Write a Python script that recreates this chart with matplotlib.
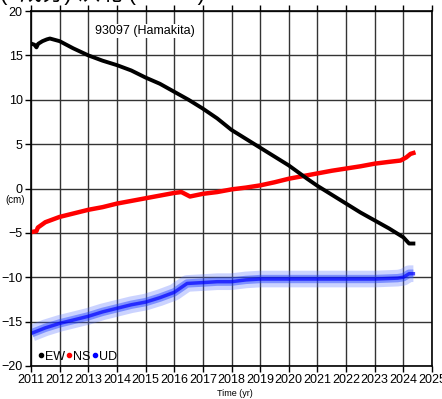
import matplotlib
matplotlib.use("Agg")
import matplotlib.pyplot as plt

plt.rcParams['font.family'] = ['Liberation Sans', 'Noto Sans CJK JP', 'DejaVu Sans']

# station time series, cm (read as trend points along each band)
ew_t = [2011.03, 2011.12, 2011.19, 2011.25, 2011.4, 2011.55, 2011.66, 2012.0, 2012.47,
        2013.0, 2013.5, 2014.0, 2014.5, 2015.0, 2015.5, 2016.0, 2016.5, 2017.0, 2017.5,
        2018.0, 2018.5, 2019.0, 2019.5, 2020.0, 2020.64, 2021.0, 2021.5, 2022.0,
        2022.5, 2023.0, 2023.5, 2024.0, 2024.2, 2024.35]
ew_v = [16.3, 16.2, 15.9, 16.3, 16.6, 16.8, 16.9, 16.6, 15.8,
        15.0, 14.4, 13.9, 13.3, 12.5, 11.8, 10.9, 10.0, 9.0, 7.9,
        6.6, 5.6, 4.6, 3.6, 2.6, 1.1, 0.3, -0.7, -1.7,
        -2.7, -3.6, -4.5, -5.5, -6.2, -6.2]

ns_t = [2011.03, 2011.19, 2011.24, 2011.5, 2012.0, 2012.5, 2013.0, 2013.5, 2014.0,
        2014.5, 2015.0, 2015.5, 2016.0, 2016.25, 2016.55, 2017.0, 2017.5, 2018.0,
        2018.5, 2019.0, 2019.5, 2020.0, 2020.5, 2021.0, 2021.5, 2022.0, 2022.5,
        2023.0, 2023.5, 2023.9, 2024.1, 2024.25, 2024.35]
ns_v = [-4.9, -4.8, -4.4, -3.8, -3.2, -2.8, -2.4, -2.1, -1.7,
        -1.4, -1.1, -0.8, -0.5, -0.4, -0.9, -0.6, -0.4, -0.1,
        0.1, 0.35, 0.7, 1.1, 1.4, 1.7, 2.0, 2.25, 2.5,
        2.8, 3.0, 3.15, 3.5, 3.9, 4.0]

ud_t = [2011.03, 2011.5, 2012.0, 2012.5, 2013.0, 2013.5, 2014.0, 2014.5, 2015.0,
        2015.5, 2016.0, 2016.45, 2017.0, 2017.5, 2018.0, 2018.5, 2019.0, 2020.0,
        2021.0, 2022.0, 2023.0, 2023.8, 2024.0, 2024.2, 2024.35]
ud_v = [-16.3, -15.7, -15.2, -14.8, -14.4, -13.9, -13.5, -13.1, -12.8,
        -12.3, -11.7, -10.7, -10.6, -10.5, -10.5, -10.3, -10.2, -10.2,
        -10.2, -10.2, -10.2, -10.1, -10.0, -9.6, -9.6]

years = list(range(2011, 2026))
yticks = [20, 15, 10, 5, 0, -5, -10, -15, -20]
station = "93097 (Hamakita)"

fig = plt.figure(figsize=(4.42, 3.99), dpi=100)
ax = fig.add_axes([31/442, 33/399, 401/442, 355/399])

# UD is noisy: wide pale band plus a darker core
ax.plot(ud_t, ud_v, color='#5570ff', lw=12, alpha=0.3, solid_capstyle='butt')
ax.plot(ud_t, ud_v, color='#2040ff', lw=6, alpha=0.45, solid_capstyle='butt')
ax.plot(ud_t, ud_v, color='#0000ff', lw=2.5, alpha=0.7)
ax.plot(ns_t, ns_v, color='#ff0000', lw=3.2)
ax.plot(ew_t, ew_v, color='black', lw=2.8)

# legend handles only
ax.plot([], [], 'o', color='black', ms=3, label='EW')
ax.plot([], [], 'o', color='#ff0000', ms=3, label='NS')
ax.plot([], [], 'o', color='#0000ff', ms=3, label='UD')
ax.legend(loc='lower left', ncol=3, frameon=False, fontsize=9,
          handlelength=0.4, handletextpad=0.15, columnspacing=0.1,
          borderaxespad=0.2, bbox_to_anchor=(0.0, -0.012))

ax.set_xlim(2011, 2025)
ax.set_ylim(-20, 20)
ax.set_xticks(years)
ax.set_xticklabels([str(y) for y in years], fontsize=9)
ax.set_yticks(yticks)
ax.set_yticklabels([str(v).replace('-', '\u2212') for v in yticks], fontsize=9)
ax.grid(True, color='#333333', lw=1.0)
ax.tick_params(direction='out', length=4, width=1, top=True, pad=2)
for s in ax.spines.values():
    s.set_linewidth(1.2)

ax.text(0.16, 0.944, station, transform=ax.transAxes, fontsize=9,
        ha='left', va='center', bbox=dict(facecolor='white', edgecolor='none', pad=1))

fig.text(15/442, 1 - 200/399, "(cm)", fontsize=7, ha='center', va='center',
         bbox=dict(facecolor='white', edgecolor='none', pad=0.5))
fig.text(235/442, 1 - 394/399, "Time (yr)", fontsize=6.5, ha='center', va='center')
fig.text(0.0, 1.0, "(3成分) 浜北 (93097)", fontsize=16, ha='left', va='baseline')

fig.savefig("out.png", dpi=100)
